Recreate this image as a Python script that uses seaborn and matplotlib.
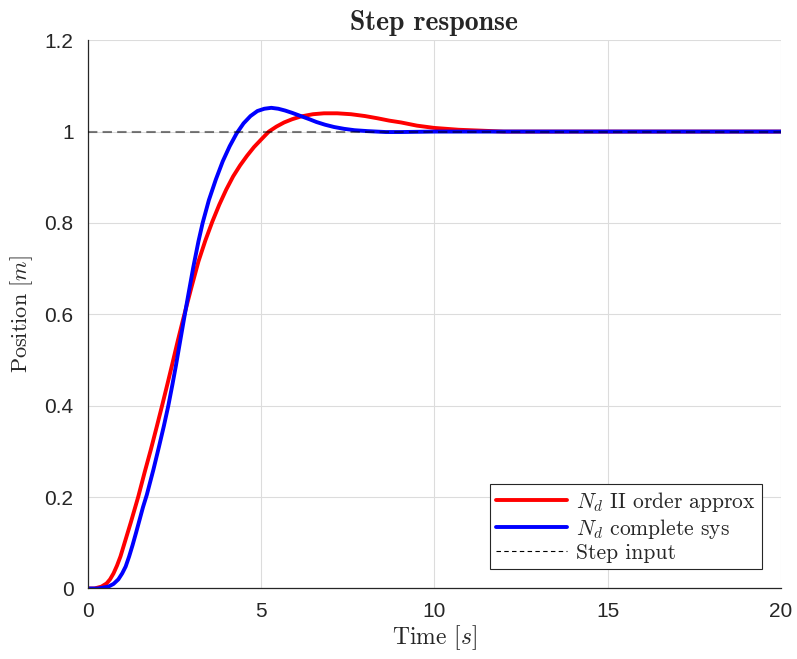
import matplotlib
matplotlib.use("Agg")
import matplotlib.pyplot as plt
from matplotlib.lines import Line2D
import seaborn as sns
import pandas as pd

# values
time_red = [0, 0.2, 0.4, 0.55, 0.65, 0.75, 0.85, 0.95, 1.03, 1.15, 1.25, 1.46, 1.65, 1.83, 2.0,
            2.16, 2.3, 2.45, 2.6, 2.76, 2.9, 3.0, 3.2, 3.4, 3.6, 3.8, 4.0, 4.2, 4.4, 4.6, 4.8,
            5.0, 5.23, 5.45, 5.67, 5.9, 6.15, 6.5, 6.82, 7.2, 7.6, 8.0, 8.37, 8.7, 9.04, 9.5,
            10.0, 10.7, 11.36, 12.0, 14.0, 16.0, 18.0, 20.0]
pos_red = [0, 0, 0.004, 0.011, 0.02, 0.033, 0.05, 0.07, 0.09, 0.12, 0.145, 0.2, 0.255, 0.305,
           0.355, 0.403, 0.446, 0.493, 0.541, 0.59, 0.631, 0.66, 0.716, 0.762, 0.803, 0.84,
           0.873, 0.902, 0.926, 0.947, 0.966, 0.982, 1.0, 1.011, 1.02, 1.027, 1.033, 1.038,
           1.04, 1.04, 1.038, 1.034, 1.029, 1.024, 1.02, 1.013, 1.008, 1.004, 1.002, 1.0, 1.0,
           1.0, 1.0, 1.0]

time_blue = [0, 0.3, 0.6, 0.75, 0.89, 1.0, 1.1, 1.2, 1.3, 1.4, 1.5, 1.6, 1.71, 1.9, 2.06, 2.2,
             2.33, 2.45, 2.55, 2.65, 2.76, 2.9, 3.05, 3.2, 3.32, 3.5, 3.7, 3.9, 4.1, 4.3, 4.5,
             4.7, 4.9, 5.1, 5.3, 5.5, 5.7, 5.9, 6.15, 6.4, 6.6, 6.85, 7.11, 7.4, 7.7, 8.08, 8.6,
             9.04, 10.0, 20.0]
pos_blue = [0, 0, 0.004, 0.01, 0.02, 0.033, 0.048, 0.07, 0.095, 0.122, 0.15, 0.178, 0.205, 0.26,
            0.31, 0.355, 0.4, 0.447, 0.488, 0.532, 0.58, 0.64, 0.703, 0.76, 0.8, 0.85, 0.895,
            0.935, 0.968, 0.996, 1.018, 1.034, 1.045, 1.05, 1.052, 1.05, 1.046, 1.041, 1.034,
            1.027, 1.021, 1.015, 1.01, 1.006, 1.003, 1.001, 0.999, 0.999, 1.0, 1.0]

time_step = [0, 20]
pos_step = [1, 1]

series_names = [r"$N_d$ II order approx", r"$N_d$ complete sys"]
series_colors = ["#ff0000", "#0000ff"]
step_name = "Step input"

x_ticks = [0, 5, 10, 15, 20]
x_tick_labels = ["0", "5", "10", "15", "20"]
y_ticks = [0, 0.2, 0.4, 0.6, 0.8, 1.0, 1.2]
y_tick_labels = ["0", "0.2", "0.4", "0.6", "0.8", "1", "1.2"]

df = pd.concat([
    pd.DataFrame({"t": time_red, "y": pos_red, "series": series_names[0]}),
    pd.DataFrame({"t": time_blue, "y": pos_blue, "series": series_names[1]}),
], ignore_index=True)

sns.set_style("white")
plt.rcParams["mathtext.fontset"] = "cm"
plt.rcParams["font.family"] = ["Liberation Sans", "DejaVu Sans"]

fig = plt.figure(figsize=(7.97, 6.59), dpi=100)
ax = fig.add_axes([0.1098, 0.107, 0.8702, 0.832])

sns.lineplot(data=df, x="t", y="y", hue="series", palette=series_colors, hue_order=series_names,
             estimator=None, sort=False, linewidth=2.8, legend=False, ax=ax)
ax.plot(time_step, pos_step, color="black", alpha=0.5, linestyle=(0, (4.5, 2.5)), linewidth=1.5,
        zorder=5)

ax.set_xlim(0, 20)
ax.set_ylim(0, 1.2)
ax.set_xticks(x_ticks)
ax.set_xticklabels(x_tick_labels)
ax.set_yticks(y_ticks)
ax.set_yticklabels(y_tick_labels)
ax.grid(True, color="#dcdcdc", linewidth=0.8)
ax.set_axisbelow(True)

for side in ["top", "right"]:
    ax.spines[side].set_visible(False)
for side in ["left", "bottom"]:
    ax.spines[side].set_color("#262626")
    ax.spines[side].set_linewidth(0.9)
ax.tick_params(direction="in", length=6, width=0.9, color="#262626", labelcolor="#262626",
               labelsize=15, pad=10)

ax.set_title("Step response", fontfamily="cmb10", fontsize=20, pad=7)
ax.set_xlabel(r"Time $[s]$", fontfamily="cmr10", fontsize=17, labelpad=1)
ax.set_ylabel(r"Position $[m]$", fontfamily="cmr10", fontsize=16, labelpad=7)

handles = [Line2D([], [], color=series_colors[0], linewidth=2.8),
           Line2D([], [], color=series_colors[1], linewidth=2.8),
           Line2D([], [], color="black", linewidth=0.8, linestyle=(0, (4, 3)))]
leg = ax.legend(handles, series_names + [step_name], loc="lower right",
                prop={"family": "cmr10", "size": 15.5}, fancybox=False, framealpha=1,
                edgecolor="#262626", borderpad=0.3, handlelength=3.3, handletextpad=0.4,
                labelspacing=0.12, borderaxespad=0.9)
leg.get_frame().set_linewidth(0.8)

fig.savefig("out.png", dpi=100)
